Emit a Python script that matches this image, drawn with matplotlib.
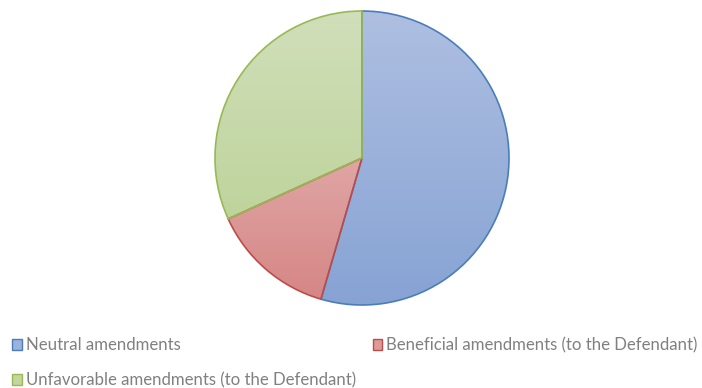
import numpy as np
import matplotlib.pyplot as plt
from matplotlib.colors import LinearSegmentedColormap
from matplotlib.patches import Patch

labels = ["Neutral amendments",
          "Beneficial amendments (to the Defendant)",
          "Unfavorable amendments (to the Defendant)"]
shares = [54.5, 13.7, 31.8]
top_colors = ["#aebfe1", "#ebc6c6", "#d1dfba"]
bottom_colors = ["#87a3d4", "#d58584", "#b6cf8f"]
edge_colors = ["#4a7ebb", "#be4b48", "#98b954"]
legend_colors = ["#9ab2dc", "#dc9a99", "#c3d6a0"]

W, H = 702, 388
fig = plt.figure(figsize=(W / 100, H / 100), dpi=100)
ax = fig.add_axes([0, 0, 1, 1])

cx, cy, r = 362, H - 158, 147
wedges, _ = ax.pie(shares, center=(cx, cy), radius=r, startangle=90,
                   counterclock=False, frame=True)
ax.set_xlim(0, W)
ax.set_ylim(0, H)
ax.set_aspect("auto")
ax.axis("off")

# vertical gradient fill, clipped to each wedge
grad = np.linspace(0, 1, 256).reshape(-1, 1)
for w, c0, c1, ec in zip(wedges, top_colors, bottom_colors, edge_colors):
    w.set_facecolor("none")
    w.set_edgecolor(ec)
    w.set_linewidth(1.2)
    w.set_zorder(3)
    cmap = LinearSegmentedColormap.from_list("g", [c0, c1])
    im = ax.imshow(grad, cmap=cmap, extent=(cx - r, cx + r, cy - r, cy + r),
                   origin="upper", aspect="auto", zorder=2)
    im.set_clip_path(w)
ax.set_xlim(0, W)
ax.set_ylim(0, H)

handles = [Patch(facecolor=m, edgecolor=e, linewidth=1)
           for m, e in zip(legend_colors, edge_colors)]
order = [0, 2, 1]
fig.legend([handles[i] for i in order], [labels[i] for i in order],
           ncol=2, loc="lower left", bbox_to_anchor=(-0.004, -0.04),
           frameon=False, handlelength=0.56, handleheight=0.56,
           handletextpad=0.25, columnspacing=1.0, labelspacing=1.12,
           prop={"family": "Lato", "size": 12.1}, labelcolor="#808080")

fig.savefig("out.png", dpi=100)
